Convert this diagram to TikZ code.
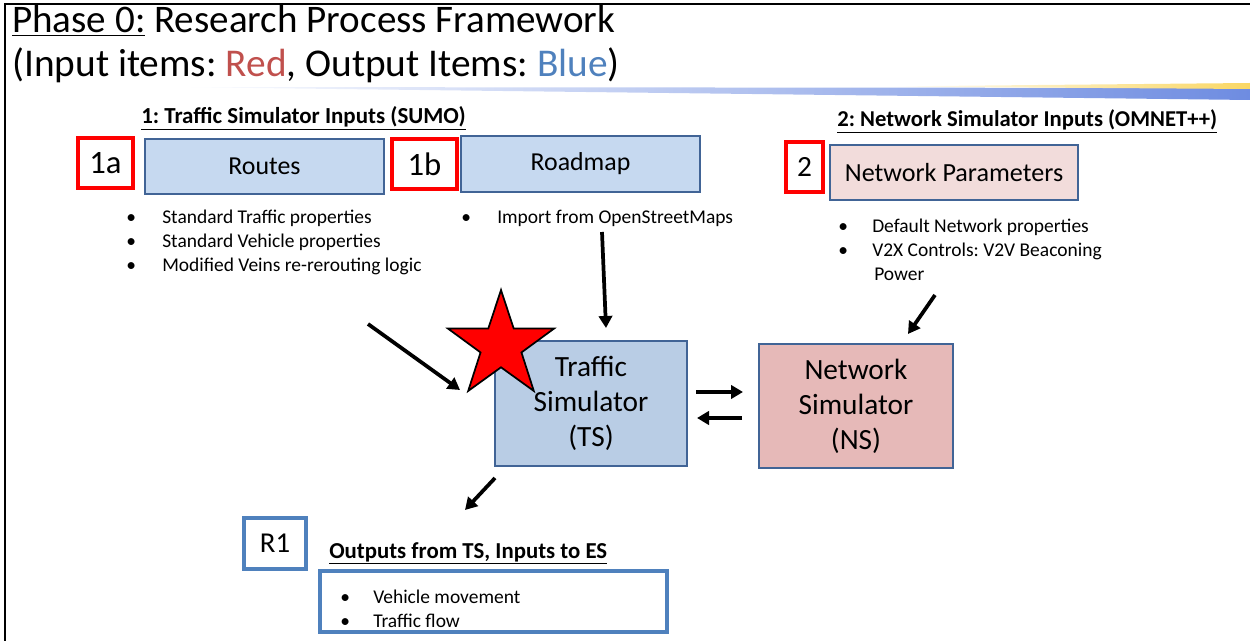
\documentclass[tikz,border=0pt]{standalone}
\usepackage{fontspec}
\setmainfont{Carlito}
\frenchspacing
\usetikzlibrary{arrows.meta,calc}
\definecolor{boxblue}{RGB}{198,217,240}
\definecolor{tsblue}{RGB}{185,205,229}
\definecolor{nsred}{RGB}{230,185,184}
\definecolor{nppink}{RGB}{242,220,219}
\definecolor{edgeblue}{RGB}{65,100,150}
\definecolor{outblue}{RGB}{79,129,189}
\definecolor{txtred}{RGB}{192,80,77}
\definecolor{txtblue}{RGB}{79,129,189}
\definecolor{gradblue}{RGB}{110,140,225}
\definecolor{gradyellow}{RGB}{250,215,100}
\newcommand\bitem[2][27pt]{\makebox[#1][l]{\textbullet}#2}
\tikzset{
  wh/.style 2 args={minimum width=#1*0.75pt, minimum height=#2*0.75pt, inner sep=0pt},
  redbox/.style={draw=red, line width=3pt, fill=white, font=\fontsize{24.5}{28}\selectfont},
  bluebox/.style={draw=edgeblue, line width=2pt, fill=boxblue, font=\fontsize{19.4}{22}\selectfont},
  pinkbox/.style={draw=edgeblue, line width=2pt, fill=nppink, font=\fontsize{19.6}{22}\selectfont},
  simbox/.style={draw=edgeblue, line width=2pt, align=center, font=\fontsize{22}{26.25}\selectfont},
  outbox/.style={draw=outblue, line width=2.6pt, fill=white},
  heading/.style={anchor=base west, inner sep=0pt, font=\bfseries},
  bul/.style={anchor=base west, inner sep=0pt, font=\fontsize{14.6}{17}\selectfont},
  arr/.style={line width=2.8pt, -{Triangle[length=9pt,width=10pt]}},
}
\begin{document}
\begin{tikzpicture}[x=0.75pt,y=-0.75pt]
\useasboundingbox (0,0) rectangle (1250,641);
% frame lines
\draw[line width=1.5pt] (4.5,641) -- (4.5,4) -- (1250,4);
% decorative gradient line
\shade[left color=white, right color=gradblue] (170,87) -- (1250,88) -- (1250,100) -- cycle;
\shade[left color=white, right color=gradyellow] (880,86.5) -- (1250,83) -- (1250,89) -- cycle;
% title
\node[anchor=base west, inner sep=0pt, font=\fontsize{29.3}{33}\selectfont] (title1) at (12,33) {\underline{Phase 0:} Research Process Framework};
\node[anchor=base west, inner sep=0pt, font=\fontsize{29.5}{33}\selectfont] (title2) at (12,77) {(Input items: \textcolor{txtred}{Red}, Output Items: \textcolor{txtblue}{Blue})};
% headings
\node[heading, font=\fontsize{17.2}{20}\selectfont\bfseries] (h1) at (141,124) {\underline{1: Traffic Simulator Inputs (SUMO)}};
\node[heading, font=\fontsize{17}{20}\selectfont\bfseries] (h2) at (837,127) {\underline{2: Network Simulator Inputs (OMNET++)}};
\node[heading, font=\fontsize{17.1}{20}\selectfont\bfseries] (h3) at (329,558) {\underline{Outputs from TS, Inputs to ES}};
% input boxes
\node[redbox, wh={55}{50}] (b1a) at (105.5,163) {1a};
\node[bluebox, wh={239}{55}] (routes) at (264.5,166.5) {Routes};
\node[redbox, wh={65}{50}] (b1b) at (424.5,164) {1b};
\node[bluebox, wh={239}{56}] (roadmap) at (580.5,164) {Roadmap};
\node[redbox, wh={37}{50}, font=\fontsize{22}{26}\selectfont] (b2) at (804.5,167) {2};
\node[pinkbox, wh={248}{55}] (netpar) at (954,172.5) {Network Parameters};
% bullets
\node[bul] (r1) at (126,224) {\bitem{Standard Traffic properties}};
\node[bul] (r2) at (126,248) {\bitem{Standard Vehicle properties}};
\node[bul] (r3) at (126,272) {\bitem{Modified Veins re-rerouting logic}};
\node[bul] (m1) at (461,224) {\bitem{Import from OpenStreetMaps}};
\node[bul] (n1) at (838,233) {\bitem[25.5pt]{Default Network properties}};
\node[bul] (n2) at (838,257) {\bitem[25.5pt]{V2X Controls: V2V Beaconing}};
\node[bul] (n3) at (874,281) {Power};
% simulators
\node[simbox, fill=tsblue, wh={192}{125}] (ts) at (591,403.5) {Traffic\\Simulator\\(TS)};
\node[simbox, fill=nsred, wh={194}{124}] (ns) at (856,406) {Network\\Simulator\\(NS)};
% star
\draw[fill=red, line width=1.3pt, line join=miter]
  ($(501,345.8)+(-90:55.8)$)
  \foreach \k in {0,...,4} {
    -- ($(501,345.8)+({-90+72*\k}:55.8)$)
    -- ($(501,345.8)+({-54+72*\k}:21.5)$)
  } -- cycle;
% outputs
\node[outbox, wh={62}{51}, font=\fontsize{21.6}{24}\selectfont] (br1) at (275,543.5) {R1};
\node[outbox, wh={347}{61}] (outb) at (493.5,601.5) {};
\node[bul] (o1) at (340,603) {\bitem[24.75pt]{Vehicle movement}};
\node[bul] (o2) at (340,627) {\bitem[24.75pt]{Traffic flow}};
% arrows
\coordinate (a1s) at (368,324);
\coordinate (a1e) at (460,390);
\coordinate (a2s) at (602,232);
\coordinate (a2e) at (606,328);
\coordinate (a3s) at (935,295);
\coordinate (a3e) at (908,334);
\coordinate (a4s) at (696,392);
\coordinate (a4e) at (743,392);
\coordinate (a5s) at (742,418);
\coordinate (a5e) at (697,418);
\coordinate (a6s) at (495,478);
\coordinate (a6e) at (465,510);
\draw[arr] (a1s) -- (a1e);
\draw[arr] (a2s) -- (a2e);
\draw[arr] (a3s) -- (a3e);
\draw[arr] (a4s) -- (a4e);
\draw[arr] (a5s) -- (a5e);
\draw[arr] (a6s) -- (a6e);
\end{tikzpicture}
\end{document}
